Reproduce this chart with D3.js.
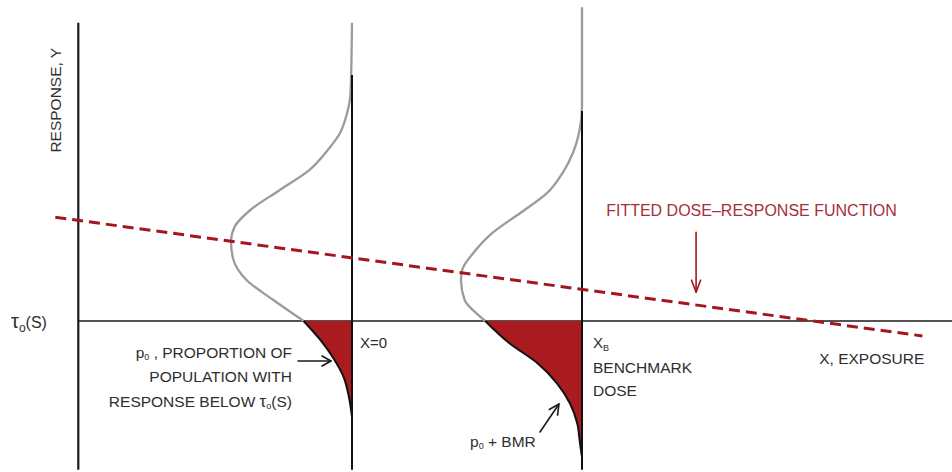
<!DOCTYPE html>
<html>
<head>
<meta charset="utf-8">
<script src="https://cdn.jsdelivr.net/npm/d3@7"></script>
<style>
  html, body { margin: 0; padding: 0; background: #fff; }
  svg { display: block; }
  text { font-family: "Liberation Sans", Arial, Helvetica, sans-serif; fill: #2e2e2e; }
</style>
</head>
<body>
<svg id="chart" width="952" height="472"></svg>
<script>
// Exposure levels carrying a response distribution: X = 0 and the benchmark dose X_B
const doses = [0, 1];
// Response level at which each dose's vertical reference line starts
const doseLineTop = [4.1, 3.5];
// Response threshold tau_0(S)
const tau0 = 0;

// Response distribution at X = 0 (response value, relative density)
const responseAt0 = [4.97, 3.80, 3.47, 3.13, 2.85, 2.52, 2.18, 1.85, 1.57, 1.32, 1.02, 0.68, 0.35, 0.07, 0, -0.32, -0.60, -0.93, -1.27, -1.60];
const densityAt0  = [0, 0.012, 0.04, 0.10, 0.20, 0.35, 0.60, 0.84, 0.97, 1.0, 0.98, 0.87, 0.65, 0.45, 0.40, 0.26, 0.16, 0.07, 0.025, 0];

// Response distribution at X = X_B (response value, relative density)
const responseAtB = [5.23, 3.57, 3.13, 2.80, 2.47, 2.13, 1.80, 1.47, 1.13, 0.85, 0.68, 0.35, 0.07, 0, -0.37, -0.70, -1.03, -1.37, -1.70, -2.03, -2.27];
const densityAtB  = [0, 0, 0.025, 0.075, 0.16, 0.29, 0.51, 0.74, 0.90, 0.99, 1.0, 0.97, 0.84, 0.80, 0.60, 0.37, 0.21, 0.10, 0.04, 0.017, 0];

// Fitted dose-response function (exposure, response) end points
const fittedExposure = [-1.29, 2.48];
const fittedResponse = [1.73, -0.25];

// Extent of the exposure and response axes
const exposureExtent = [-1.19, 2.61];
const responseExtent = [-2.48, 4.97];

const svg = d3.select("#chart");

const x = d3.scaleLinear().domain([0, 1]).range([352, 582]);
const y = d3.scaleLinear().domain([-2.5, 5.3]).range([471, 3]);
const w = d3.scaleLinear().domain([0, 1]).range([0, 121]);

const RED = "#aa1b20";
const DASH_RED = "#a3171c";

// Axes
svg.append("line")
  .attr("x1", x(exposureExtent[0])).attr("x2", x(exposureExtent[0]))
  .attr("y1", y(responseExtent[1])).attr("y2", y(responseExtent[0]))
  .attr("stroke", "#1a1a1a").attr("stroke-width", 2.2);
svg.append("line")
  .attr("x1", x(exposureExtent[0])).attr("x2", x(exposureExtent[1]))
  .attr("y1", y(tau0)).attr("y2", y(tau0))
  .attr("stroke", "#1a1a1a").attr("stroke-width", 1.6);

const dists = [
  { dose: doses[0], top: doseLineTop[0], pts: responseAt0.map((r, i) => ({ r, d: densityAt0[i] })) },
  { dose: doses[1], top: doseLineTop[1], pts: responseAtB.map((r, i) => ({ r, d: densityAtB[i] })) }
];

dists.forEach(dist => {
  const base = x(dist.dose);
  const upper = dist.pts.filter(p => p.r >= tau0);
  const lower = dist.pts.filter(p => p.r <= tau0);

  const line = d3.line()
    .x(p => base - w(p.d))
    .y(p => y(p.r))
    .curve(d3.curveMonotoneY);

  const area = d3.area()
    .y(p => y(p.r))
    .x0(base)
    .x1(p => base - w(p.d))
    .curve(d3.curveMonotoneY);

  // tail below the threshold
  svg.append("path").attr("d", area(lower)).attr("fill", RED);

  svg.append("path").attr("d", line(upper))
    .attr("fill", "none").attr("stroke", "#9b9b9b").attr("stroke-width", 2.3);

  svg.append("path").attr("d", line(lower))
    .attr("fill", "none").attr("stroke", "#111").attr("stroke-width", 2);

  // vertical reference line at the dose
  svg.append("line")
    .attr("x1", base).attr("x2", base)
    .attr("y1", y(dist.top)).attr("y2", y(responseExtent[0]))
    .attr("stroke", "#111").attr("stroke-width", 2);
});

// Fitted dose-response function
svg.append("path")
  .attr("d", d3.line()(fittedExposure.map((e, i) => [x(e), y(fittedResponse[i])])))
  .attr("fill", "none")
  .attr("stroke", DASH_RED)
  .attr("stroke-width", 3)
  .attr("stroke-dasharray", "11,6");

// Arrow helper with an open V head
function arrow(x1, y1, x2, y2, color, headLen, headHalf) {
  const ang = Math.atan2(y2 - y1, x2 - x1);
  const bx = x2 - headLen * Math.cos(ang), by = y2 - headLen * Math.sin(ang);
  const nx = -Math.sin(ang) * headHalf, ny = Math.cos(ang) * headHalf;
  const g = svg.append("g").attr("fill", "none").attr("stroke", color).attr("stroke-width", 1.6)
    .attr("stroke-linecap", "round").attr("stroke-linejoin", "round");
  g.append("line").attr("x1", x1).attr("y1", y1).attr("x2", x2).attr("y2", y2);
  g.append("polyline").attr("points", `${bx + nx},${by + ny} ${x2},${y2} ${bx - nx},${by - ny}`);
}

// Axis titles
svg.append("text")
  .attr("transform", `translate(${x(exposureExtent[0]) - 17},${y(3.68)}) rotate(-90)`)
  .attr("text-anchor", "middle")
  .attr("font-size", 15.5)
  .text("RESPONSE, Y");

svg.append("text")
  .attr("x", x(exposureExtent[1]) - 28).attr("y", y(tau0) + 43)
  .attr("text-anchor", "end").attr("font-size", 15.5)
  .text("X, EXPOSURE");

// tau_0(S) threshold label
const tauLabel = svg.append("text").attr("x", 11).attr("y", y(tau0) + 7);
tauLabel.append("tspan").attr("font-size", 20).text("τ");
tauLabel.append("tspan").attr("font-size", 12).attr("dy", 4).text("o");
tauLabel.append("tspan").attr("font-size", 16).attr("dy", -4).text("(S)");

// Dose labels
svg.append("text")
  .attr("x", x(doses[0]) + 8).attr("y", y(tau0) + 27)
  .attr("font-size", 15).text("X=0");

const xb = svg.append("text").attr("x", x(doses[1]) + 11).attr("y", y(tau0) + 27).attr("font-size", 15);
xb.append("tspan").text("X");
xb.append("tspan").attr("font-size", 9).attr("dy", 3).text("B");
svg.append("text").attr("x", x(doses[1]) + 11).attr("y", y(tau0) + 52).attr("font-size", 15.5).text("BENCHMARK");
svg.append("text").attr("x", x(doses[1]) + 11).attr("y", y(tau0) + 75).attr("font-size", 15.5).text("DOSE");

// p0 annotation
const pAnchor = x(doses[0]) - 60;
const p0a = svg.append("text").attr("x", pAnchor).attr("y", y(tau0) + 37).attr("text-anchor", "end").attr("font-size", 15.5);
p0a.append("tspan").text("p");
p0a.append("tspan").attr("font-size", 9).attr("dy", 2).text("0");
p0a.append("tspan").attr("dy", -2).text(" , PROPORTION OF");
svg.append("text").attr("x", pAnchor).attr("y", y(tau0) + 61).attr("text-anchor", "end").attr("font-size", 15.5)
  .text("POPULATION WITH");
const p0c = svg.append("text").attr("x", pAnchor).attr("y", y(tau0) + 86).attr("text-anchor", "end").attr("font-size", 15.5);
p0c.append("tspan").text("RESPONSE BELOW ");
p0c.append("tspan").attr("font-size", 17).text("τ");
p0c.append("tspan").attr("font-size", 9).attr("dy", 2).text("o");
p0c.append("tspan").attr("dy", -2).text("(S)");
arrow(x(doses[0]) - 54, y(tau0) + 40, x(doses[0]) - 21, y(tau0) + 40, "#1a1a1a", 9, 5);

// p0 + BMR annotation
const pb = svg.append("text").attr("x", x(doses[1]) - 112).attr("y", y(tau0) + 126).attr("font-size", 15.5);
pb.append("tspan").text("p");
pb.append("tspan").attr("font-size", 9).attr("dy", 2).text("0");
pb.append("tspan").attr("dy", -2).text(" + BMR");
arrow(x(doses[1]) - 42, y(tau0) + 111, x(doses[1]) - 23, y(tau0) + 83, "#1a1a1a", 10, 5);

// Fitted function label and pointer
svg.append("text")
  .attr("x", x(1.737)).attr("y", y(1.75))
  .attr("text-anchor", "middle").attr("font-size", 16)
  .style("fill", "#a3303a")
  .text("FITTED DOSE–RESPONSE FUNCTION");
arrow(x(1.496), y(1.48), x(1.496), y(0.48), "#a3171c", 12, 4.5);
</script>
</body>
</html>
